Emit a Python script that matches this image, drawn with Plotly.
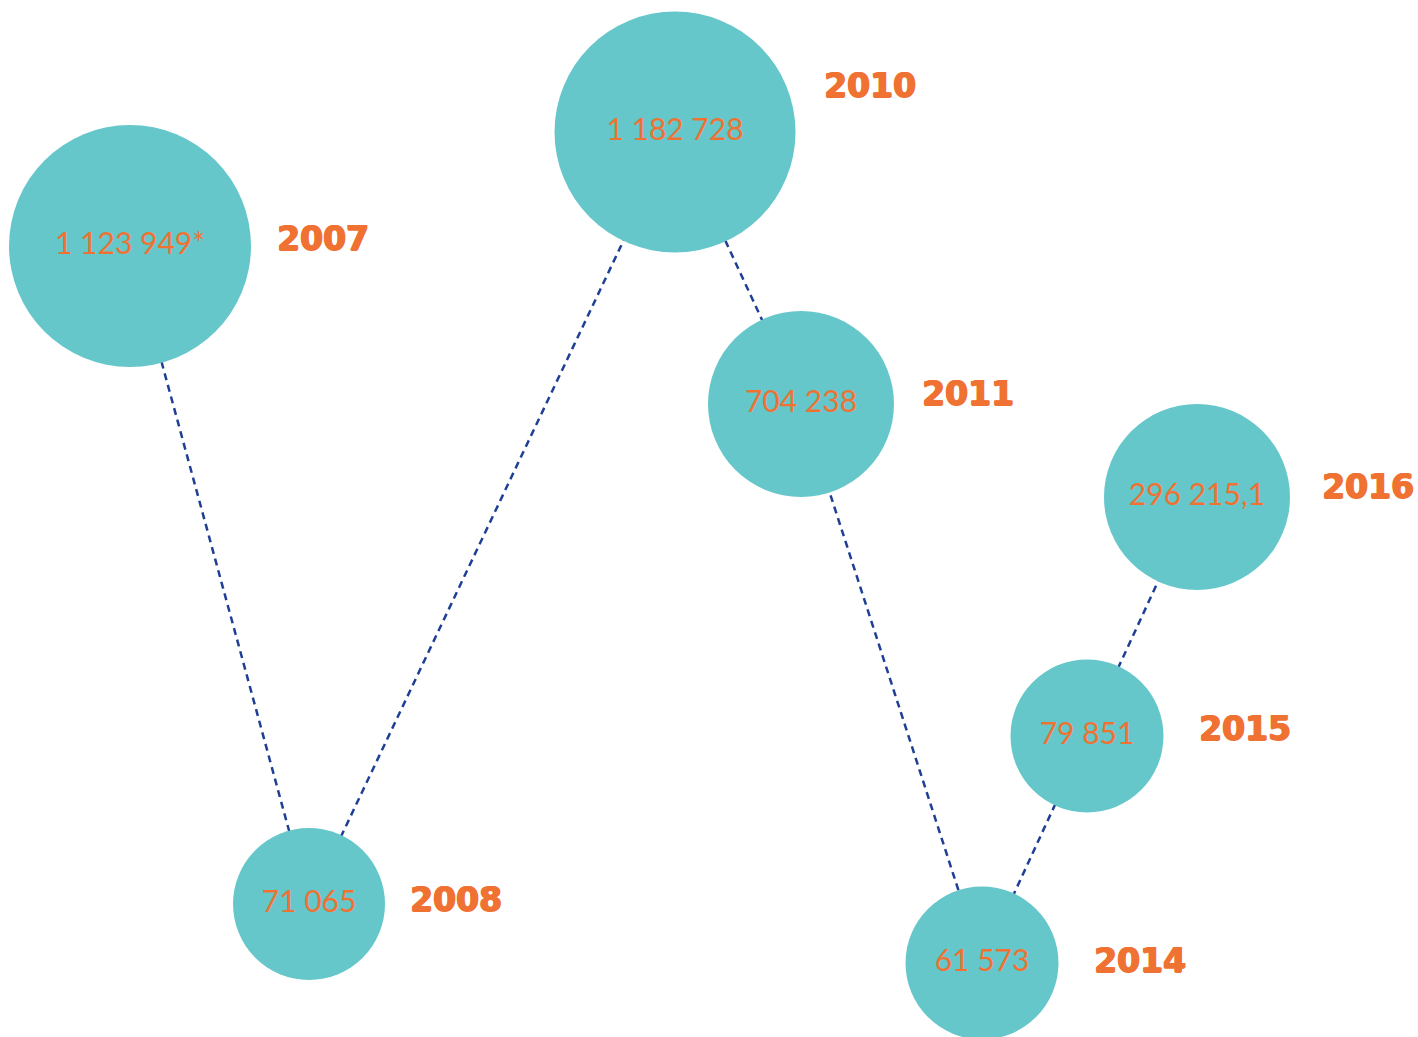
import plotly.graph_objects as go

# values shown in each bubble, in the order the dashed line visits them
years = ["2007", "2008", "2010", "2011", "2014", "2015", "2016"]
values = ["1 123 949*", "71 065", "1 182 728", "704 238", "61 573", "79 851", "296 215,1"]

# bubble placement on the drawing (free layout, no real axes) and diameter in px
x_pos = [130, 309, 675, 801, 982, 1087, 1197]
y_pos = [246, 904, 132, 404, 963, 736, 497]
size_px = [242, 152, 241, 186, 153, 153, 186]

# year tags sit to the right of each bubble
label_x = [277, 410, 824, 922, 1094, 1199, 1322]
label_y = [242, 903, 89, 397, 964, 732, 490]

TEAL = "#66C7CB"
ORANGE = "#F07233"
NAVY = "#1F3F95"

fig = go.Figure()
# dashed path first so the bubbles sit on top of it
fig.add_trace(go.Scatter(x=x_pos, y=y_pos, mode="lines",
                         line=dict(color=NAVY, width=2.5, dash="7px,5px"),
                         hoverinfo="skip"))
fig.add_trace(go.Scatter(x=x_pos, y=y_pos, mode="markers+text", text=values,
                         textposition="middle center",
                         textfont=dict(family="Lato", size=30, color=ORANGE, weight=400),
                         marker=dict(size=size_px, color=TEAL, opacity=1, line=dict(width=0)),
                         hovertext=years, hoverinfo="text"))
# extra-heavy look: bold face thickened with a same-colour shadow
fig.add_trace(go.Scatter(x=label_x, y=label_y, mode="text", text=years,
                         textposition="middle right", cliponaxis=False,
                         textfont=dict(family="DejaVu Sans", size=33, color=ORANGE, weight=700,
                                       shadow=f"1px 0 0 {ORANGE}, -0.6px 0 0 {ORANGE}, 0 0.6px 0 {ORANGE}"),
                         hoverinfo="skip"))

fig.update_layout(width=1418, height=1037, margin=dict(l=0, r=0, t=0, b=0),
                  paper_bgcolor="white", plot_bgcolor="white", showlegend=False,
                  xaxis=dict(range=[0, 1418], visible=False, fixedrange=True),
                  yaxis=dict(range=[1037, 0], visible=False, fixedrange=True))

fig.write_html("out.html", config={"displayModeBar": False},
               post_script="document.body.style.margin='0';")
